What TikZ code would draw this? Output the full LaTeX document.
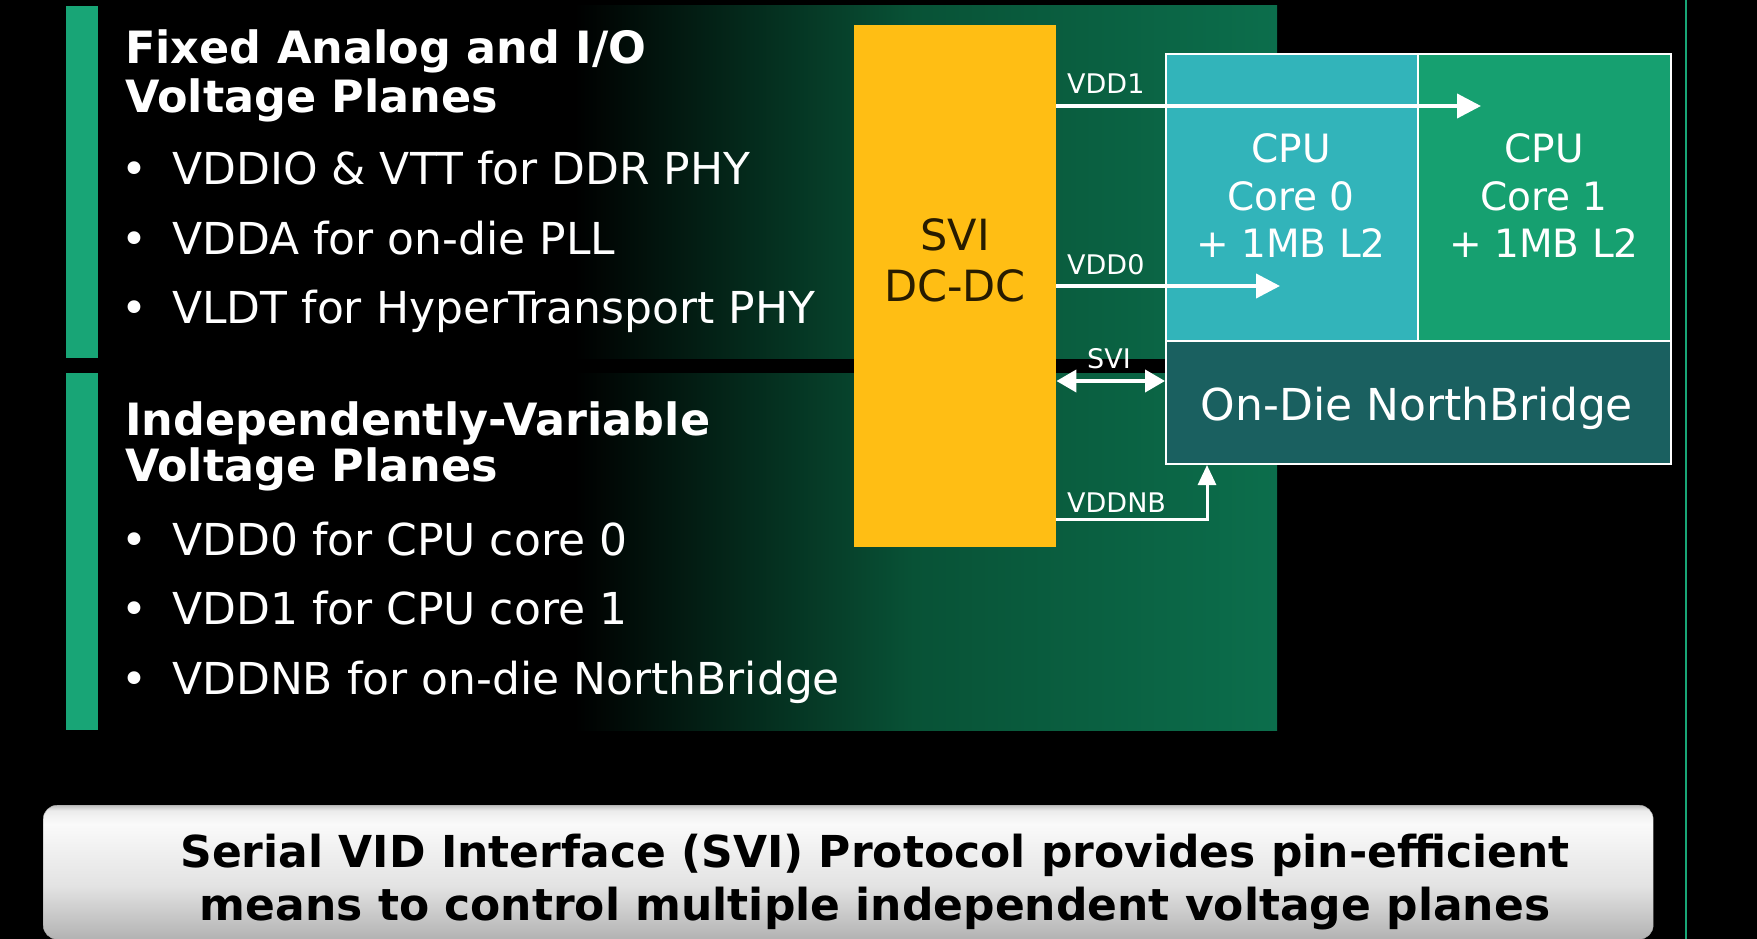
\documentclass[tikz,border=0pt]{standalone}
\usepackage{fontspec}
\setmainfont{DejaVu Sans}
\usetikzlibrary{arrows.meta}
\definecolor{pg1}{RGB}{8,82,54}
\definecolor{pg2}{RGB}{12,110,76}
\definecolor{barg}{RGB}{24,165,118}
\definecolor{yel}{RGB}{255,190,20}
\definecolor{teal0}{RGB}{50,180,186}
\definecolor{coreone}{RGB}{22,160,112}
\definecolor{nbc}{RGB}{26,96,96}
\definecolor{ytext}{RGB}{40,28,0}
\pgfdeclarehorizontalshading{panelshade}{100bp}{color(0bp)=(black); color(25bp)=(black); color(46bp)=(black); color(60bp)=(pg1); color(75bp)=(pg2); color(100bp)=(pg2)}
\pgfdeclareverticalshading{boxshade}{100bp}{color(0bp)=(gray!60); color(25bp)=(gray!60); color(45bp)=(gray!22); color(68bp)=(gray!4); color(73bp)=(gray!15); color(75bp)=(gray!50); color(100bp)=(gray!50)}
\begin{document}
\begin{tikzpicture}[x=1pt,y=-1pt,
  lbl/.style={text=white,font=\fontsize{27}{30}\selectfont,inner sep=0pt,anchor=base west},
  head/.style={text=white,font=\bfseries\fontsize{44.5}{49}\selectfont,inner sep=0pt,anchor=base west},
  bul/.style={text=white,font=\fontsize{44}{50}\selectfont,inner sep=0pt,anchor=base west},
  cpu/.style={text=white,font=\fontsize{39}{46}\selectfont,inner sep=0pt,anchor=base},
  blk/.style={draw=white,line width=2pt,inner sep=0pt,anchor=north west},
  arr/.style={white,line width=4pt,-{Triangle[length=24pt,width=24pt]}},
  note/.style={text=black,font=\bfseries\fontsize{44}{48}\selectfont,inner sep=0pt,anchor=base},
]
\useasboundingbox (0,0) rectangle (1757,939);
\fill[black] (0,0) rectangle (1757,939);
% panels
\shade[shading=panelshade] (65,6) rectangle (1277,358);
\shade[shading=panelshade] (65,373) rectangle (1277,730);
\fill[barg] (66,6) rectangle (98,358);
\fill[barg] (66,373) rectangle (98,730);
\draw[barg,line width=2pt] (1686,0) -- (1686,939);
% upper text
\node[head] (h1a) at (125,64) {Fixed Analog and I/O};
\node[head] (h1b) at (125,113) {Voltage Planes};
\node[bul] (b1) at (121,185) {\makebox[51pt][l]{•}VDDIO \& VTT for DDR PHY};
\node[bul] (b2) at (121,254) {\makebox[51pt][l]{•}VDDA for on-die PLL};
\node[bul] (b3) at (121,323) {\makebox[51pt][l]{•}VLDT for HyperTransport PHY};
% lower text
\node[head] (h2a) at (125,435) {Independently-Variable};
\node[head] (h2b) at (125,481) {Voltage Planes};
\node[bul] (b4) at (121,555) {\makebox[51pt][l]{•}VDD0 for CPU core 0};
\node[bul] (b5) at (121,624) {\makebox[51pt][l]{•}VDD1 for CPU core 1};
\node[bul] (b6) at (121,694) {\makebox[51pt][l]{•}VDDNB for on-die NorthBridge};
% DC-DC
\node[fill=yel,inner sep=0pt,minimum width=202pt,minimum height=522pt,anchor=north west] (dc) at (854,25) {};
\node[text=ytext,font=\fontsize{43}{50}\selectfont,inner sep=0pt,anchor=base] (dct1) at (955,250) {SVI};
\node[text=ytext,font=\fontsize{43}{50}\selectfont,inner sep=0pt,anchor=base] (dct2) at (955,301) {DC-DC};
% CPU blocks
\node[blk,fill=teal0,minimum width=252pt,minimum height=287pt] (c0) at (1165,53) {};
\node[blk,fill=coreone,minimum width=253pt,minimum height=287pt] (c1) at (1417,53) {};
\node[blk,fill=nbc,minimum width=505pt,minimum height=123pt] (nb) at (1165,340) {};
\node[cpu] (c0a) at (1291,163) {CPU};
\node[cpu] (c0b) at (1291,210) {Core 0};
\node[cpu] (c0c) at (1291,257) {+ 1MB L2};
\node[cpu] (c1a) at (1544,163) {CPU};
\node[cpu] (c1b) at (1544,210) {Core 1};
\node[cpu] (c1c) at (1544,257) {+ 1MB L2};
\node[text=white,font=\fontsize{44}{50}\selectfont,inner sep=0pt,anchor=base] (nbt) at (1417,420) {On-Die NorthBridge};
% connectors
\coordinate (v1) at (1481,106);
\coordinate (v0) at (1280,286);
\coordinate (sviy) at (0,381);
\coordinate (nbx) at (1207,519);
\draw[arr] (dc.east |- v1) -- (v1);
\draw[arr] (dc.east |- v0) -- (v0);
\draw[white,line width=4pt,{Triangle[length=20pt,width=22pt]}-{Triangle[length=20pt,width=22pt]}] (dc.east |- sviy) -- (nb.west |- sviy);
\draw[white,line width=3pt,-{Triangle[length=20pt,width=18pt]}] (dc.east |- nbx) -| (nb.south -| nbx);
\node[lbl] (l1) at (1067,94) {VDD1};
\node[lbl] (l0) at (1067,274) {VDD0};
\node[text=white,font=\fontsize{27}{30}\selectfont,inner sep=0pt,anchor=base] (ls) at (1109,368) {SVI};
\node[lbl] (lnb) at (1067,512) {VDDNB};
% bottom note
\node[shade,shading=boxshade,draw=gray!70,rounded corners=14pt,inner sep=0pt,minimum width=1610pt,minimum height=134pt,anchor=north west] (box) at (43,805) {};
\node[note] (n1) at (875,867) {Serial VID Interface (SVI) Protocol provides pin-efficient};
\node[note] (n2) at (875,920) {means to control multiple independent voltage planes};
\end{tikzpicture}
\end{document}
